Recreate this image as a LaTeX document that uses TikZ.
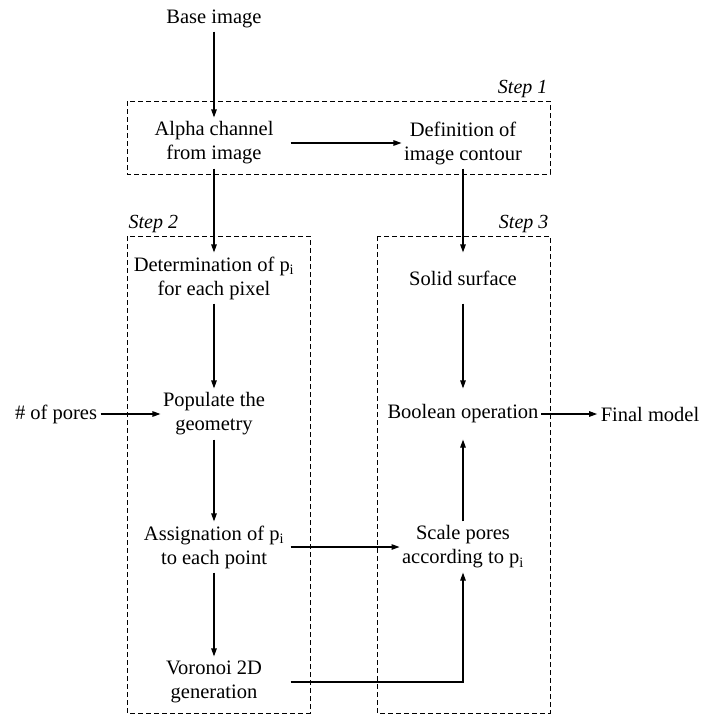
\documentclass[tikz,border=0pt]{standalone}
\usepackage{fontspec}
\setmainfont{Liberation Serif}
\usetikzlibrary{arrows.meta}

\tikzset{
  stage/.style={align=center, minimum height=50pt, inner xsep=2pt, inner ysep=0pt},
  widestage/.style={stage, minimum width=152pt},
  ext/.style={inner sep=3pt},
  stepframe/.style={dash pattern=on 5pt off 3pt, line width=1pt},
  steplabel/.style={font=\fontsize{20}{24}\selectfont\itshape, inner sep=0pt},
}

\begin{document}
\begin{tikzpicture}[x=1pt, y=-1pt, font=\fontsize{20.5}{24}\selectfont,
  >={Triangle[length=8pt,width=5.5pt]}, line width=1.2pt]
\useasboundingbox (0,0) rectangle (702,715);
% dashed frames of the three steps
\draw[stepframe] (127,101) rectangle (550,174);
\draw[stepframe] (127,236) rectangle (310,713);
\draw[stepframe] (377,236) rectangle (550,713);
\node[steplabel, anchor=base east] (s1) at (548,93) {Step 1};
\node[steplabel, anchor=base west] (s2) at (128,228) {Step 2};
\node[steplabel, anchor=base east] (s3) at (549,228) {Step 3};

\node[ext] (base) at (214,19) {Base image};
\node[widestage] (alpha) at (214,143) {Alpha channel\\from image};
\node[stage] (contour) at (463,143) {Definition of\\image contour};
\node[widestage] (determ) at (214,278) {Determination of p\textsubscript{i}\\for each pixel};
\node[stage] (solid) at (463,278) {Solid surface};
\node[stage] (populate) at (214,414) {Populate the\\geometry};
\node[stage] (boolean) at (463,414) {Boolean operation};
\node[ext] (pores) at (56,414) {\# of pores};
\node[ext] (final) at (650,414) {Final model};
\node[widestage] (assign) at (214,547) {Assignation of p\textsubscript{i}\\to each point};
\node[stage] (scale) at (463,547) {Scale pores\\according to p\textsubscript{i}};
\node[widestage] (voronoi) at (214,682) {Voronoi 2D\\generation};

\draw[->] (base) -- (alpha);
\draw[->] (alpha) -- (contour);
\draw[->] (alpha) -- (determ);
\draw[->] (contour) -- (solid);
\draw[->] (determ) -- (populate);
\draw[->] (pores) -- (populate);
\draw[->] (populate) -- (assign);
\draw[->] (assign) -- (voronoi);
\draw[->] (assign) -- (scale);
\draw[->] (solid) -- (boolean);
\draw[->] (scale) -- (boolean);
\draw[->] (boolean) -- (final);
\draw[->] (voronoi.east) -| (scale.south);
\end{tikzpicture}
\end{document}
